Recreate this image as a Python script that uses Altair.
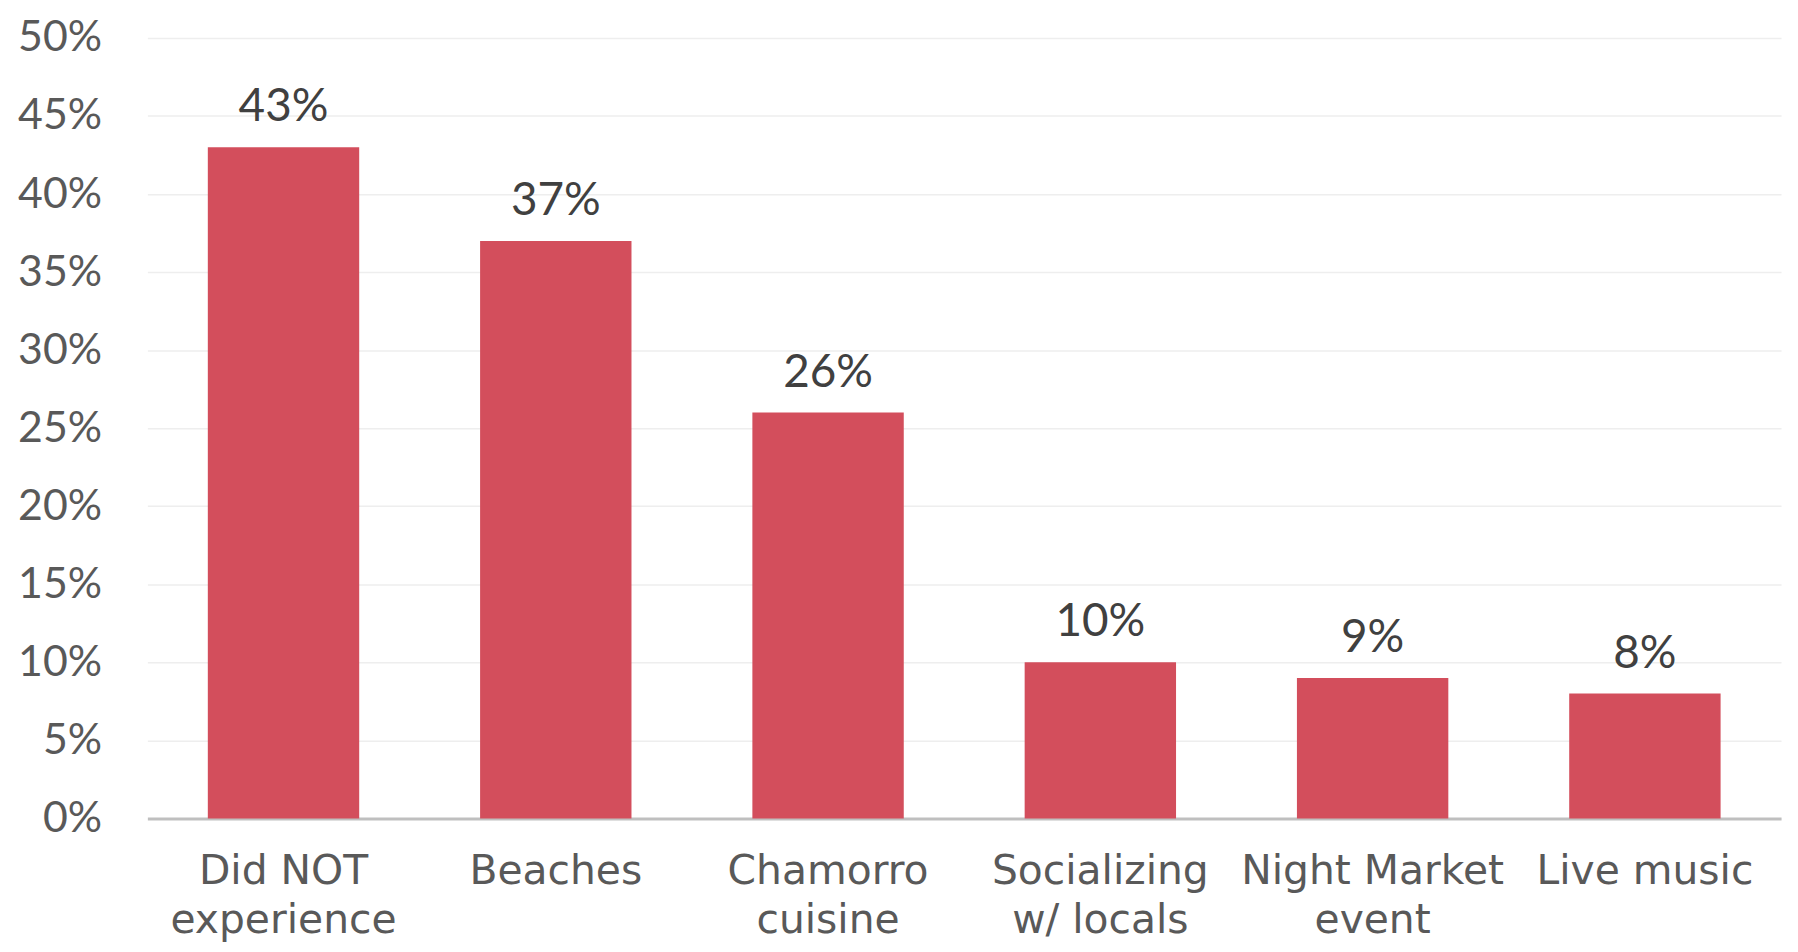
import altair as alt
import pandas as pd

categories = ["Did NOT|experience", "Beaches", "Chamorro|cuisine", "Socializing|w/ locals", "Night Market|event", "Live music"]
values = [43, 37, 26, 10, 9, 8]
labels = ["43%", "37%", "26%", "10%", "9%", "8%"]

df = pd.DataFrame({"cat": categories, "val": values, "lab": labels})
FONT = "Lato"
XFONT = "DejaVu Sans"

x = alt.X("cat:N", sort=categories, title=None,
          scale=alt.Scale(paddingInner=0.444, paddingOuter=0.222),
          axis=alt.Axis(labelAngle=0, labelFont=XFONT, labelFontSize=41, labelColor="#595959",
                        labelExpr="split(datum.label, '|')", labelLineHeight=50,
                        labelPadding=33, ticks=False, domainColor="#BFBFBF", domainWidth=3,
                        labelBaseline="top", labelLimit=0))
y = alt.Y("val:Q", title=None, scale=alt.Scale(domain=[0, 50]),
          axis=alt.Axis(values=list(range(0, 55, 5)), labelExpr="datum.value + '%'",
                        labelFont=FONT, labelFontSize=43, labelColor="#595959", labelPadding=46,
                        ticks=False, domain=False, gridColor="#EEEEEE", gridWidth=1.5))

bars = alt.Chart(df).mark_bar(color="#D34E5C").encode(x=x, y=y)
text = alt.Chart(df).mark_text(font=FONT, fontSize=46, color="#404040", baseline="bottom", dy=-16).encode(
    x=alt.X("cat:N", sort=categories), y="val:Q", text="lab:N")

chart = (bars + text).properties(
    width=1641, height=784,
    autosize=alt.AutoSizeParams(type="none"),
    padding={"left": 140, "top": 28, "right": 9, "bottom": 124},
).configure_view(stroke=None)

chart.save("out.html", embed_options={"renderer": "svg", "actions": False})
